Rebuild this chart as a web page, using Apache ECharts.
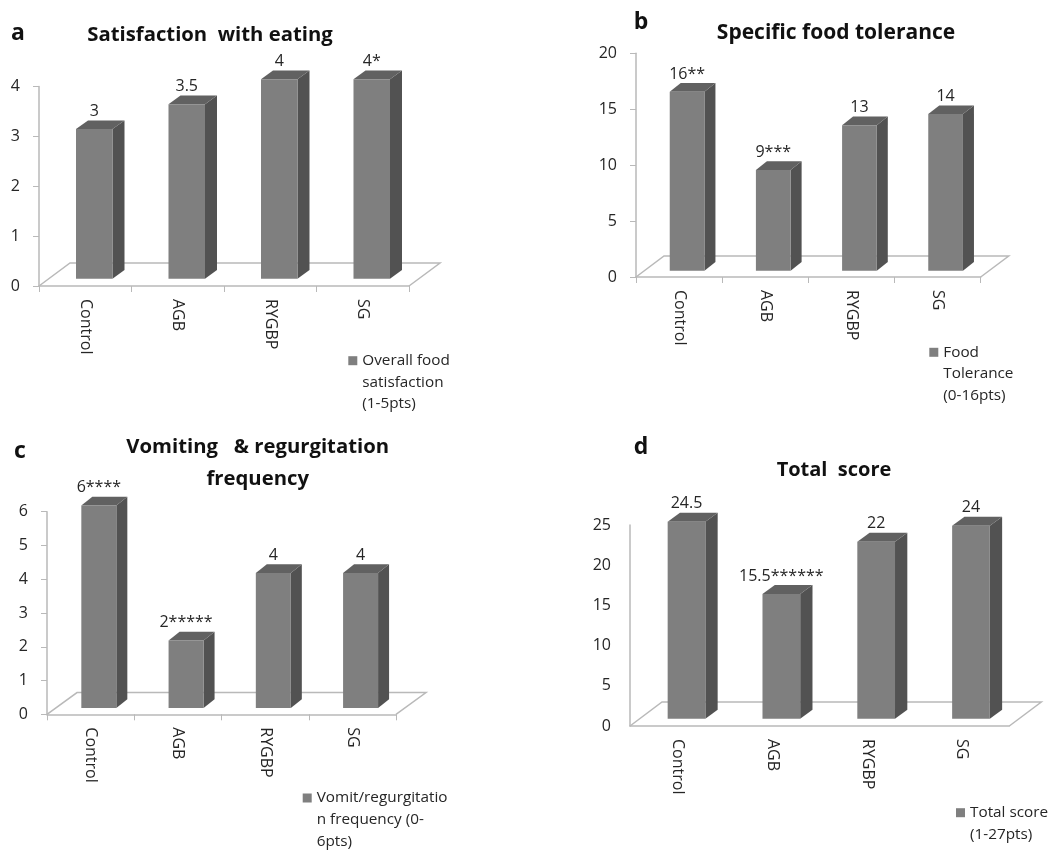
<!DOCTYPE html>
<html>
<head>
<meta charset="utf-8">
<title>Eating quality scores</title>
<script src="https://cdn.jsdelivr.net/npm/echarts@6/dist/echarts.min.js"></script>
<style>html,body{margin:0;padding:0;background:#fff}#chart{width:1051px;height:850px}</style>
</head>
<body>
<div id="chart"></div>
<script>
const categories = ['Control', 'AGB', 'RYGBP', 'SG'];

const satisfactionValues = [3, 3.5, 4, 4];
const satisfactionLabels = ['3', '3.5', '4', '4*'];
const satisfactionLegend = ['Overall food', 'satisfaction', '(1-5pts)'];

const toleranceValues = [16, 9, 13, 14];
const toleranceLabels = ['16**', '9***', '13', '14'];
const toleranceLegend = ['Food', 'Tolerance', '(0-16pts)'];

const vomitValues = [6, 2, 4, 4];
const vomitLabels = ['6****', '2*****', '4', '4'];
const vomitLegend = ['Vomit/regurgitatio', 'n frequency (0-', '6pts)'];

const totalValues = [24.5, 15.5, 22, 24];
const totalLabels = ['24.5', '15.5******', '22', '24'];
const totalLegend = ['Total score', '(1-27pts)'];

const FONT = '"Open Sans", Lato, sans-serif';
const INK = '#262626';
const AXIS = '#b9b9b9';
const FRONT = '#7f7f7f';
const SIDE = '#525252';
const TOP = '#616161';

const panels = [
  { letter: 'a', lx: 18, ly: 33, title: 'Satisfaction  with eating', titleSize: 20.3, tx: 210, ty: 35,
    values: satisfactionValues, labels: satisfactionLabels, legend: satisfactionLegend, series: 'Overall food satisfaction (1-5pts)',
    gx: 39, gy: 86.5, gw: 370, gh: 199.5, max: 4, step: 1, ticks: true,
    barW: 36.5, shift: 9, lift: 7.3, dx: 12, dy: 8.7, fx: 31, fy: 23, lgx: 348.3, lgy: 360.7 },
  { letter: 'b', lx: 641, ly: 22, title: 'Specific food tolerance', titleSize: 21, tx: 836, ty: 33,
    values: toleranceValues, labels: toleranceLabels, legend: toleranceLegend, series: 'Food Tolerance (0-16pts)',
    gx: 636, gy: 53.3, gw: 344.7, gh: 223.7, max: 20, step: 5, ticks: true,
    barW: 34.7, shift: 8, lift: 6.3, dx: 11, dy: 8.7, fx: 28, fy: 21, lgx: 929.3, lgy: 352.3 },
  { letter: 'c', lx: 20, ly: 451, title: 'Vomiting   & regurgitation\nfrequency', titleSize: 20.3, tx: 257.7, ty: 463,
    values: vomitValues, labels: vomitLabels, legend: vomitLegend, series: 'Vomit/regurgitation frequency (0-6pts)',
    gx: 47, gy: 511.7, gw: 349, gh: 202.6, max: 6, step: 1, ticks: true,
    barW: 35, shift: 8.2, lift: 6.3, dx: 11, dy: 8.7, fx: 30, fy: 21.7, lgx: 302.7, lgy: 798 },
  { letter: 'd', lx: 641, ly: 447, title: 'Total  score', titleSize: 20, tx: 834, ty: 470.7,
    values: totalValues, labels: totalLabels, legend: totalLegend, series: 'Total score (1-27pts)',
    gx: 630, gy: 525, gw: 379.3, gh: 201, max: 25, step: 5, ticks: false,
    barW: 37.7, shift: 9.1, lift: 7.3, dx: 12.3, dy: 9, fx: 32, fy: 24, lgx: 956, lgy: 812.7 }
];

const grid = [], xAxis = [], yAxis = [], title = [], legend = [], series = [];

panels.forEach((p, k) => {
  grid.push({ left: p.gx, top: p.gy, width: p.gw, height: p.gh });
  xAxis.push({
    type: 'category', gridIndex: k, data: categories,
    axisLine: { show: true, lineStyle: { color: AXIS, width: 1.5 } },
    axisTick: { show: p.ticks, length: 6, lineStyle: { color: AXIS } },
    axisLabel: { rotate: -90, margin: 13, color: INK, fontFamily: FONT, fontSize: 16, interval: 0, padding: [3, 0, 0, 0] }
  });
  yAxis.push({
    type: 'value', gridIndex: k, min: 0, max: p.max, interval: p.step,
    splitLine: { show: false },
    axisLine: { show: true, lineStyle: { color: AXIS, width: 1.5 } },
    axisTick: { show: p.ticks, length: 6, lineStyle: { color: AXIS } },
    axisLabel: { margin: 19, color: INK, fontFamily: FONT, fontSize: 16 }
  });
  title.push({
    text: p.title, left: p.tx, top: p.ty, textAlign: 'center', textVerticalAlign: 'middle', padding: 0,
    textStyle: { fontFamily: FONT, fontWeight: 'bold', fontSize: p.titleSize, lineHeight: 32, color: '#111' }
  });
  title.push({
    text: p.letter, left: p.lx, top: p.ly, textAlign: 'center', textVerticalAlign: 'middle', padding: 0,
    textStyle: { fontFamily: FONT, fontWeight: 'bold', fontSize: 23, color: '#111' }
  });
  const blanks = p.legend.length - 1;
  const lh = 21.7;
  legend.push({
    left: p.lgx, top: p.lgy - (blanks * 2 + 1) * lh / 2, padding: 0,
    data: [{ name: p.series, icon: 'rect', itemStyle: { color: FRONT } }],
    itemWidth: 9, itemHeight: 9, selectedMode: false,
    formatter: () => '\n'.repeat(blanks) + p.legend.join('\n'),
    textStyle: { fontFamily: FONT, fontSize: 15.3, lineHeight: lh, color: INK, padding: 0 }
  });
  // floor plate
  series.push({
    type: 'custom', xAxisIndex: k, yAxisIndex: k, silent: true, z: 1,
    data: [[0, 0]], encode: { x: 0, y: 1 },
    renderItem: (params) => {
      const c = params.coordSys, y0 = c.y + c.height, x0 = c.x, x1 = c.x + c.width;
      return {
        type: 'polyline',
        shape: { points: [[x0, y0], [x0 + p.fx, y0 - p.fy], [x1 + p.fx, y0 - p.fy], [x1, y0]] },
        style: { stroke: AXIS, lineWidth: 1.5, fill: null }
      };
    }
  });
  // 3D bars
  series.push({
    name: p.series, type: 'custom', xAxisIndex: k, yAxisIndex: k, silent: true, z: 3,
    itemStyle: { color: FRONT },
    data: p.values.map((v, i) => [i, v]), encode: { x: 0, y: 1 },
    renderItem: (params, api) => {
      const i = api.value(0);
      const top = api.coord([i, api.value(1)]);
      const base = api.coord([i, 0]);
      const l = top[0] + p.shift - p.barW / 2, r = l + p.barW;
      const t = top[1] - p.lift, b = base[1] - p.lift;
      return {
        type: 'group',
        children: [
          { type: 'polygon', shape: { points: [[r, t], [r + p.dx, t - p.dy], [r + p.dx, b - p.dy], [r, b]] }, style: { fill: SIDE } },
          { type: 'polygon', shape: { points: [[l, t], [l + p.dx, t - p.dy], [r + p.dx, t - p.dy], [r, t]] }, style: { fill: TOP } },
          { type: 'rect', shape: { x: l, y: t, width: p.barW, height: b - t }, style: { fill: FRONT } },
          { type: 'text', style: { text: p.labels[i], x: l + p.barW / 2, y: t - p.dy - 9, align: 'center', verticalAlign: 'middle',
              fill: INK, font: '16px ' + FONT } }
        ]
      };
    }
  });
});

const chart = echarts.init(document.getElementById('chart'), null, { width: 1051, height: 850 });
chart.setOption({ backgroundColor: '#ffffff', animation: false, grid, xAxis, yAxis, title, legend, series });
</script>
</body>
</html>
